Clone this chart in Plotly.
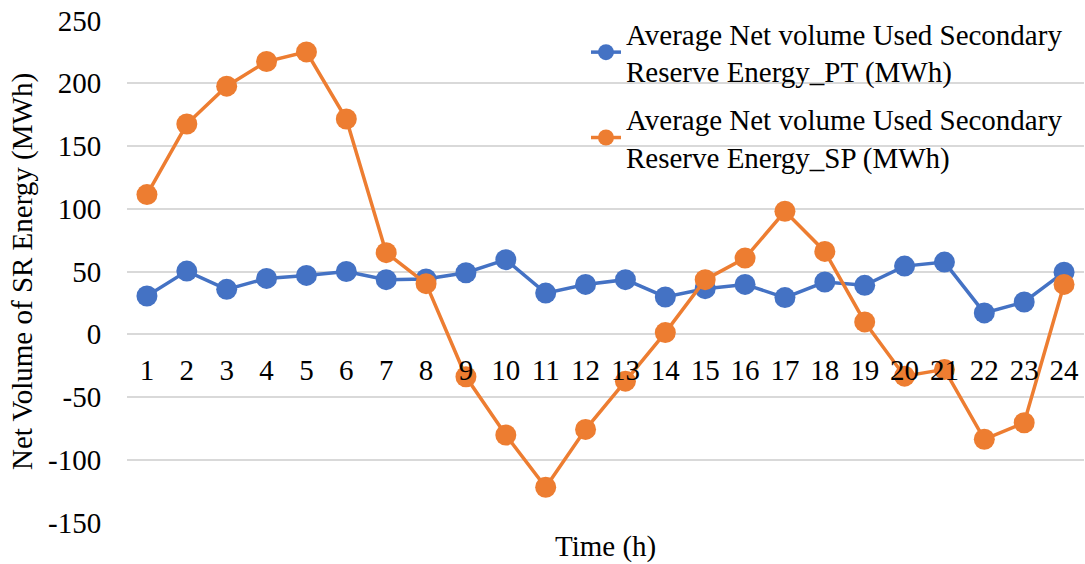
import plotly.graph_objects as go

hours = [str(h) for h in range(1, 25)]
pt_values = [30.5, 50.3, 35.8, 44.5, 46.9, 50.0, 43.5, 44.0, 49.0, 59.4, 32.8, 39.7,
             43.5, 29.7, 36.3, 39.7, 29.2, 41.6, 39.0, 54.3, 57.5, 17.0, 25.7, 49.5]
sp_values = [111.3, 167.5, 197.7, 217.3, 225.0, 171.5, 65.0, 40.3, -33.9, -80.3, -121.9, -75.8,
             -37.4, 1.3, 43.5, 60.7, 98.0, 66.0, 9.8, -33.4, -28.0, -83.7, -70.5, 39.7]
series_names = ["Average Net volume Used Secondary<br>Reserve Energy_PT (MWh)",
                "Average Net volume Used Secondary<br>Reserve Energy_SP (MWh)"]
y_ticks = [-150, -100, -50, 0, 50, 100, 150, 200, 250]
y_tick_labels = ["-150", "-100", "-50", "0", "50", "100", "150", "200", "250"]

FONT = "Liberation Serif, Times New Roman, serif"
FS = 29
colors = ["#4472C4", "#ED7D31"]

fig = go.Figure()
for i, (name, vals, c) in enumerate(zip(series_names, [pt_values, sp_values], colors)):
    fig.add_trace(go.Scatter(
        x=hours, y=vals, name=name, mode="lines+markers",
        legendgroup=f"g{i}",
        line=dict(color=c, width=3.5),
        marker=dict(color=c, size=21),
    ))

# small padding so the end gridlines (-150 and 250) are kept
ymin, ymax = -150.4, 250.4
fig.update_layout(
    width=1085, height=564,
    margin=dict(l=127, r=1, t=20, b=41, autoexpand=False),
    paper_bgcolor="white", plot_bgcolor="white",
    font=dict(family=FONT, size=FS, color="#000000"),
    showlegend=True,
    legend=dict(
        x=0.4796, y=1.024, xanchor="left", yanchor="top",
        bgcolor="rgba(0,0,0,0)", font=dict(size=FS, family=FONT),
        itemsizing="trace", tracegroupgap=7,
    ),
    xaxis=dict(
        type="category", range=[-0.5, 23.5], automargin=False,
        anchor="free", position=(0 - ymin) / (ymax - ymin),
        showgrid=False, showline=False, zeroline=False,
        ticks="outside", ticklen=10, tickcolor="rgba(0,0,0,0)",
        tickfont=dict(size=FS, family=FONT), ticklabeloverflow="allow",
    ),
    yaxis=dict(
        range=[ymin, ymax], tickvals=y_ticks, ticktext=y_tick_labels, domain=[0, 1],
        automargin=False, ticklabeloverflow="allow",
        showgrid=True, gridcolor="#D9D9D9", gridwidth=1.5,
        zeroline=False, showline=False,
        ticks="outside", ticklen=19, tickcolor="rgba(0,0,0,0)",
        tickfont=dict(size=FS, family=FONT),
        title=dict(text="Net Volume of SR Energy (MWh)", font=dict(size=FS, family=FONT), standoff=6),
    ),
)
fig.add_annotation(
    text="Time (h)", xref="paper", yref="paper", x=0.5, y=0,
    yanchor="middle", yshift=-23, showarrow=False,
    font=dict(size=FS, family=FONT),
)
# remove the page's default 8px body margin so the figure fills the window
fig.write_html("out.html", config={"displayModeBar": False},
               post_script="document.body.style.margin='0';document.body.style.overflow='hidden';")
